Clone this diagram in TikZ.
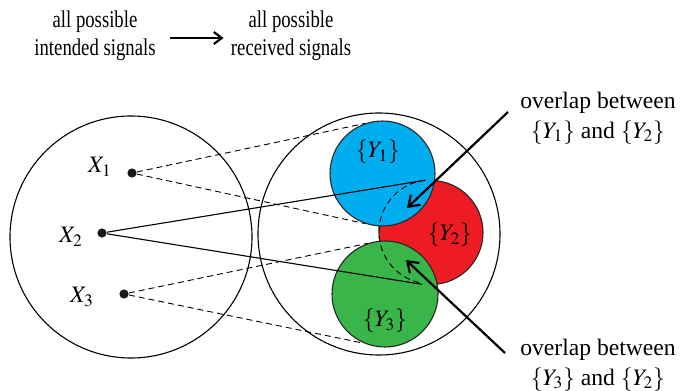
\documentclass[tikz,border=0pt]{standalone}
\usepackage{mathptmx}
\usepackage{fontspec}
\setmainfont{Liberation Serif}
\usetikzlibrary{arrows.meta}
\definecolor{ycyan}{RGB}{0,174,239}
\definecolor{yred}{RGB}{237,28,36}
\definecolor{ygreen}{RGB}{57,181,74}
\tikzset{
  txt/.style={font=\fontsize{11.8}{14.8}\selectfont, align=center, inner sep=0pt},
  toptxt/.style={font=\fontsize{12}{13.8}\selectfont, align=center, inner sep=0pt, xscale=0.78, transform shape},
  ring/.style={circle, draw, line width=0.55pt, inner sep=0pt},
  blob/.style={circle, draw=black!85, line width=0.55pt, inner sep=0pt, minimum size=52.5pt},
  pt/.style={circle, fill=black!90, inner sep=0pt, minimum size=4.6pt},
  dline/.style={dash pattern=on 3pt off 2pt, line width=0.45pt},
  sline/.style={line width=0.55pt},
  bigarrow/.style={line width=1.1pt, -{Straight Barb[length=5pt,width=7pt]}}
}
\begin{document}
\begin{tikzpicture}[x=0.5pt,y=-0.5pt]
\useasboundingbox (0,0) rectangle (681,391);
% top labels
\node[toptxt] (t1) at (95,36) {all possible\\intended signals};
\node[toptxt] (t2) at (291,36) {all possible\\received signals};
\draw[line width=1.1pt, -{Straight Barb[length=4pt,width=6pt]}, shorten <=7pt, shorten >=3.5pt] (t1.east |- 0,38) -- (t2.west |- 0,38);
% big circles
\node[ring, minimum size=121pt] (L) at (131,237) {};
\node[ring, minimum size=121pt] (R) at (379,234) {};
% coloured sets
\node[blob, fill=yred, minimum size=52pt] (y2) at (431,232.5) {};
\node[blob, fill=ycyan] (y1) at (382.5,173.5) {};
\node[blob, fill=ygreen, minimum size=53pt] (y3) at (385,294) {};
\draw[dline] (y2.96) arc[start angle=96, end angle=260, radius=26pt];
\node[txt] (ly1) at (378,152) {$\{Y_1\}$};
\node[txt] (ly2) at (450,235) {$\{Y_2\}$};
\node[txt] (ly3) at (385,321) {$\{Y_3\}$};
% points
\node[pt] (x1) at (132,173) {};
\node[pt] (x2) at (102,233) {};
\node[pt] (x3) at (124,294) {};
\node[txt] (lx1) at (100,167) {$X_1$};
\node[txt] (lx2) at (71,237) {$X_2$};
\node[txt] (lx3) at (82,297) {$X_3$};
% connectors
\draw[dline] (x1) -- (y1.109);
\draw[dline] (x1) -- (y1.251);
\draw[sline] (x2) -- (y2.97);
\draw[sline] (x2) -- (y2.260);
\draw[dline] (x3) -- (y3.109);
\draw[dline] (x3) -- (y3.247);
% overlap labels
\node[txt] (o1) at (598,118) {overlap between\\$\{Y_1\}$ and $\{Y_2\}$};
\node[txt] (o2) at (598,365) {overlap between\\$\{Y_3\}$ and $\{Y_2\}$};
\coordinate (a1s) at (508,112);
\coordinate (a1e) at (407,208);
\coordinate (a2s) at (505,353);
\coordinate (a2e) at (406,260);
\draw[bigarrow] (a1s) -- (a1e);
\draw[bigarrow] (a2s) -- (a2e);
\end{tikzpicture}
\end{document}
